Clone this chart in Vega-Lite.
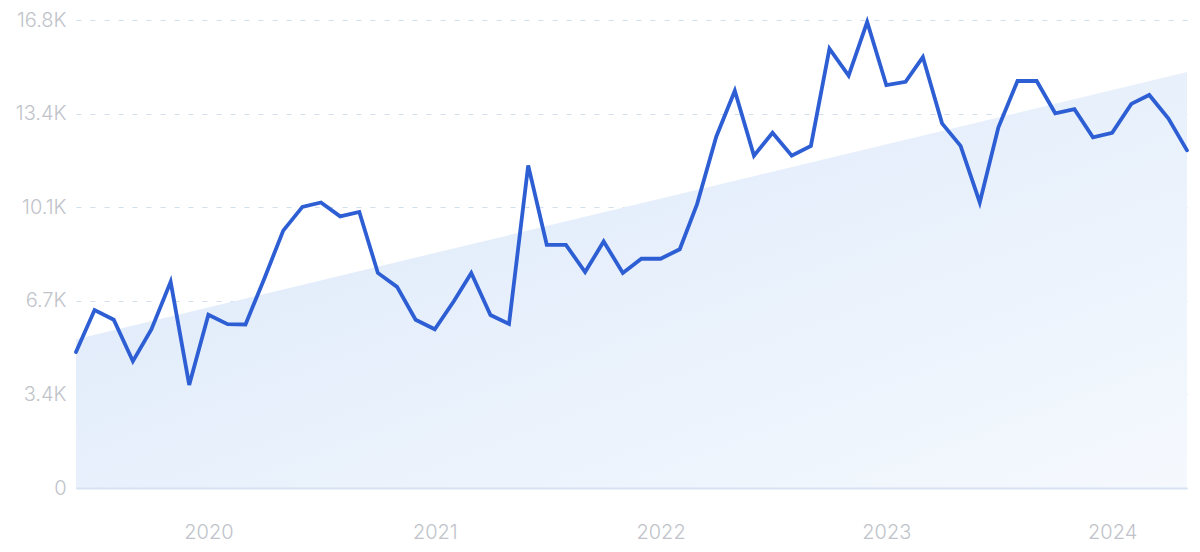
{
  "$schema": "https://vega.github.io/schema/vega-lite/v6.json",
  "autosize": "none",
  "width": 1111,
  "height": 468,
  "padding": {"left": 76, "top": 20, "right": 13, "bottom": 64},
  "background": "white",
  "config": {"view": {"stroke": null}},
  "datasets": {
    "series": [
      {"date": "2019-06-01", "value": 4880},
      {"date": "2019-07-01", "value": 6390},
      {"date": "2019-08-01", "value": 6040},
      {"date": "2019-09-01", "value": 4550},
      {"date": "2019-10-01", "value": 5700},
      {"date": "2019-11-01", "value": 7400},
      {"date": "2019-12-01", "value": 3700},
      {"date": "2020-01-01", "value": 6220},
      {"date": "2020-02-01", "value": 5880},
      {"date": "2020-03-01", "value": 5870},
      {"date": "2020-04-01", "value": 7550},
      {"date": "2020-05-01", "value": 9240},
      {"date": "2020-06-01", "value": 10090},
      {"date": "2020-07-01", "value": 10250},
      {"date": "2020-08-01", "value": 9750},
      {"date": "2020-09-01", "value": 9910},
      {"date": "2020-10-01", "value": 7720},
      {"date": "2020-11-01", "value": 7220},
      {"date": "2020-12-01", "value": 6040},
      {"date": "2021-01-01", "value": 5700},
      {"date": "2021-02-01", "value": 6710},
      {"date": "2021-03-01", "value": 7720},
      {"date": "2021-04-01", "value": 6210},
      {"date": "2021-05-01", "value": 5890},
      {"date": "2021-06-01", "value": 11580},
      {"date": "2021-07-01", "value": 8730},
      {"date": "2021-08-01", "value": 8730},
      {"date": "2021-09-01", "value": 7750},
      {"date": "2021-10-01", "value": 8850},
      {"date": "2021-11-01", "value": 7720},
      {"date": "2021-12-01", "value": 8230},
      {"date": "2022-01-01", "value": 8230},
      {"date": "2022-02-01", "value": 8570},
      {"date": "2022-03-01", "value": 10190},
      {"date": "2022-04-01", "value": 12610},
      {"date": "2022-05-01", "value": 14260},
      {"date": "2022-06-01", "value": 11930},
      {"date": "2022-07-01", "value": 12750},
      {"date": "2022-08-01", "value": 11930},
      {"date": "2022-09-01", "value": 12280},
      {"date": "2022-10-01", "value": 15770},
      {"date": "2022-11-01", "value": 14800},
      {"date": "2022-12-01", "value": 16730},
      {"date": "2023-01-01", "value": 14460},
      {"date": "2023-02-01", "value": 14580},
      {"date": "2023-03-01", "value": 15470},
      {"date": "2023-04-01", "value": 13090},
      {"date": "2023-05-01", "value": 12280},
      {"date": "2023-06-01", "value": 10250},
      {"date": "2023-07-01", "value": 12940},
      {"date": "2023-08-01", "value": 14610},
      {"date": "2023-09-01", "value": 14610},
      {"date": "2023-10-01", "value": 13450},
      {"date": "2023-11-01", "value": 13600},
      {"date": "2023-12-01", "value": 12590},
      {"date": "2024-01-01", "value": 12750},
      {"date": "2024-02-01", "value": 13790},
      {"date": "2024-03-01", "value": 14110},
      {"date": "2024-04-01", "value": 13260},
      {"date": "2024-05-01", "value": 12120}
    ],
    "trend": [
      {"date": "2019-06-01", "value": 5340},
      {"date": "2024-05-01", "value": 14930}
    ]
  },
  "encoding": {
    "x": {
      "field": "date",
      "type": "temporal",
      "scale": {
        "type": "utc",
        "domain": [
          {"year": 2019, "month": 6, "date": 1, "utc": true},
          {"year": 2024, "month": 5, "date": 1, "utc": true}
        ]
      },
      "axis": {
        "title": null,
        "format": "%Y",
        "values": [
          {"year": 2020, "month": 1, "date": 1, "utc": true},
          {"year": 2021, "month": 1, "date": 1, "utc": true},
          {"year": 2022, "month": 1, "date": 1, "utc": true},
          {"year": 2023, "month": 1, "date": 1, "utc": true},
          {"year": 2024, "month": 1, "date": 1, "utc": true}
        ],
        "grid": false,
        "ticks": false,
        "domain": true,
        "domainColor": "#d6e2f1",
        "domainWidth": 2,
        "labelFont": "Inter",
        "labelFontSize": 20,
        "labelFontWeight": 300,
        "labelColor": "#c0c3ca",
        "labelPadding": 34,
        "zindex": 1
      }
    },
    "y": {
      "field": "value",
      "type": "quantitative",
      "scale": {"domain": [0, 16800], "nice": false, "zero": true},
      "axis": {
        "title": null,
        "values": [0, 3360, 6720, 10080, 13440, 16800],
        "labelExpr": "datum.value == 0 ? '0' : format(datum.value / 1000, '.1f') + 'K'",
        "domain": false,
        "ticks": false,
        "grid": true,
        "gridColor": "#d2deee",
        "gridDash": [5, 9],
        "gridWidth": 1,
        "labelFont": "Inter",
        "labelFontSize": 20,
        "labelFontWeight": 300,
        "labelColor": "#c0c3ca",
        "labelPadding": 10
      }
    }
  },
  "layer": [
    {
      "data": {"name": "trend"},
      "mark": {
        "type": "area",
        "interpolate": "linear",
        "color": {
          "gradient": "linear",
          "x1": 0, "y1": 0, "x2": 1, "y2": 1,
          "stops": [
            {"offset": 0, "color": "#dae7f9"},
            {"offset": 1, "color": "#f5f9fe"}
          ]
        },
        "opacity": 1
      }
    },
    {
      "data": {"name": "series"},
      "mark": {
        "type": "line",
        "color": "#2d5ed3",
        "strokeWidth": 3.8,
        "strokeJoin": "miter",
        "strokeCap": "round"
      }
    }
  ]
}
